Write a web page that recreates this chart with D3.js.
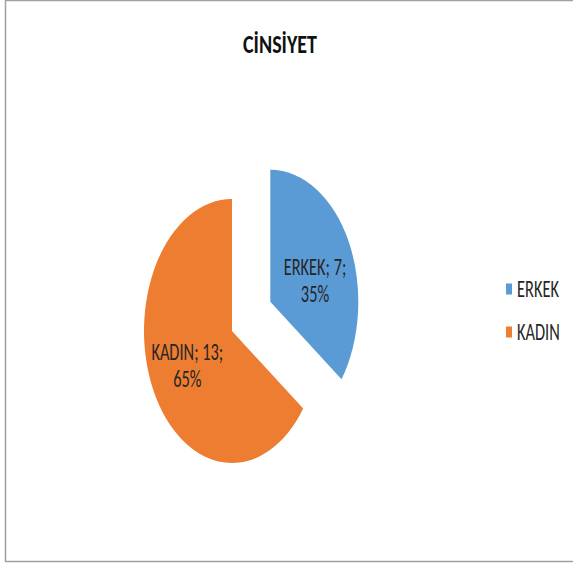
<!DOCTYPE html>
<html>
<head>
<meta charset="utf-8">
<script src="https://cdn.jsdelivr.net/npm/d3@7"></script>
<style>
body{margin:0;background:#fff;}
text{font-family:Carlito,Calibri,Lato,sans-serif;}
</style>
</head>
<body>
<div id="chart"></div>
<script>
var title="CİNSİYET";
var categories=["ERKEK","KADIN"];
var values=[7,13];
var colors=["#5B9BD5","#ED7D31"];

var width=573,height=566;
var r=88;          // radius in circle units
var sy=1.5;        // vertical stretch of the picture
var cx=232,cy=331;
var explode=[43,0];
var textsy=1.45;
var fs=16.4;

var svg=d3.select("#chart").append("svg")
	.attr("width",width)
	.attr("height",height);

svg.append("rect")
	.attr("x",5.5).attr("y",0.5)
	.attr("width",width+10).attr("height",561)
	.attr("fill","none")
	.attr("stroke","#a0a0a0")
	.attr("stroke-width",1.5);

svg.append("text")
	.attr("transform","translate(280,53) scale(1,1.27)")
	.attr("text-anchor","middle")
	.attr("font-size",20)
	.attr("font-weight","bold")
	.attr("fill","#111")
	.text(title);

var total=d3.sum(values);
var pie=d3.pie().sort(null).value(function(d){return d;});
var arcs=pie(values);
var arc=d3.arc().innerRadius(0).outerRadius(r);
var labelarc=d3.arc().innerRadius(r*0.57).outerRadius(r*0.57);

var pieg=svg.append("g").attr("transform","translate("+cx+","+cy+")");

arcs.forEach(function(a,i){
	var mid=(a.startAngle+a.endAngle)/2;
	var ox=Math.sin(mid)*explode[i];
	var oy=-Math.cos(mid)*explode[i];
	pieg.append("path")
		.attr("d",arc(a))
		.attr("fill",colors[i])
		.attr("transform","scale(1,"+sy+") translate("+ox+","+oy+")");
	var c=labelarc.centroid(a);
	var lx=c[0]+ox, ly=(c[1]+oy)*sy;
	if(i==0){ly+=12;}
	var pct=Math.round(values[i]/total*100)+"%";
	var lines=[categories[i]+"; "+values[i]+";",pct];
	lines.forEach(function(t,k){
		pieg.append("text")
			.attr("transform","translate("+lx+","+(ly-5+k*27)+") scale(1,"+textsy+")")
			.attr("text-anchor","middle")
			.attr("font-size",fs)
			.attr("fill","#262626")
			.text(t);
	});
});

var legend=svg.append("g").selectAll("g")
	.data(categories)
	.enter().append("g")
	.attr("transform",function(d,i){return "translate(506,"+(289+i*43)+")";});
legend.append("rect")
	.attr("x",0).attr("y",-5.5)
	.attr("width",6).attr("height",11)
	.attr("fill",function(d,i){return colors[i];});
legend.append("text")
	.attr("transform","translate(11,7.5) scale(1,"+textsy+")")
	.attr("font-size",fs)
	.attr("fill","#262626")
	.text(function(d){return d;});
</script>
</body>
</html>
